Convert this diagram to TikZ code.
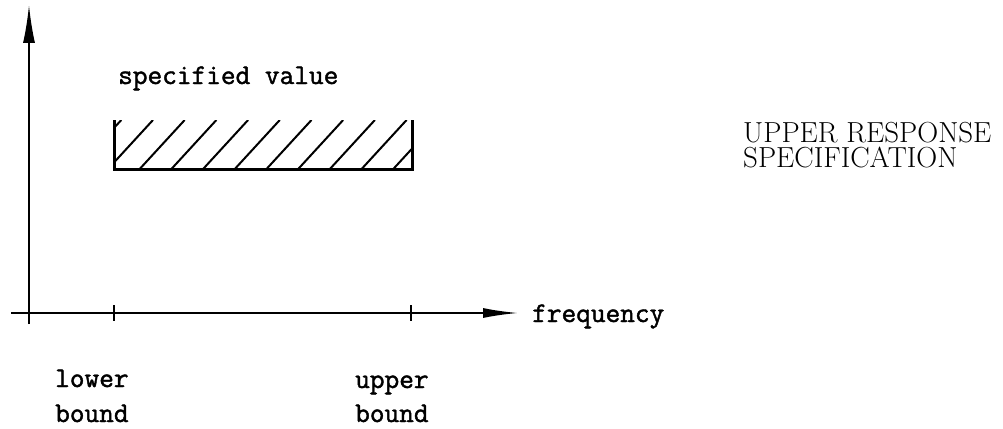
\documentclass[tikz,border=0pt]{standalone}
\usepackage{fontspec}
\newfontfamily\twfont{Latin Modern Mono}[FakeBold=1.5]
\usetikzlibrary{arrows.meta}
\begin{document}
\begin{tikzpicture}[x=1pt,y=-1pt,
  axis/.style={line width=1.8pt},
  tickmark/.style={line width=1.8pt},
  boxline/.style={line width=3pt},
  hatch/.style={line width=2pt},
  tw/.style={font=\twfont\fontsize{28.5}{30}\selectfont, inner sep=0pt, anchor=base west},
  caption/.style={font=\fontsize{29}{24}\selectfont, inner sep=0pt, anchor=base west}]
\useasboundingbox (0,0) rectangle (1003,428);
% axes
\coordinate (ytop) at (29,5);
\coordinate (ybot) at (29,324);
\coordinate (xleft) at (11,313);
\coordinate (xright) at (518,313);
\draw[axis,-{Latex[length=38pt,width=12pt]}] (ybot) -- (ytop);
\draw[axis,-{Latex[length=35pt,width=10pt]}] (xleft) -- (xright);
% ticks
\coordinate (t1a) at (114,305); \coordinate (t1b) at (114,321);
\coordinate (t2a) at (411,305); \coordinate (t2b) at (411,321);
\draw[tickmark] (t1a) -- (t1b);
\draw[tickmark] (t2a) -- (t2b);
% specified value band
\coordinate (bl) at (114,169);
\coordinate (br) at (412,169);
\coordinate (tl) at (114,120);
\coordinate (tr) at (412,120);
\begin{scope}
  \clip (tl) rectangle (br);
  \foreach \k in {-1,...,9} {
    \draw[hatch] ({108+31.7*\k},169) -- ({153+31.7*\k},120);
  }
\end{scope}
\draw[boxline] (tl) -- (bl) -- (br) -- (tr);
% labels
\node[tw] (spec) at (118,84) {specified value};
\node[tw] (freq) at (532,322) {frequency};
\node[tw] (low1) at (55,387) {lower};
\node[tw] (low2) at (55,422) {bound};
\node[tw] (up1) at (355,388) {upper};
\node[tw] (up2) at (355,422) {bound};
\node[caption] (cap1) at (743,142) {UPPER RESPONSE};
\node[caption] (cap2) at (743,167) {SPECIFICATION};
\end{tikzpicture}
\end{document}
